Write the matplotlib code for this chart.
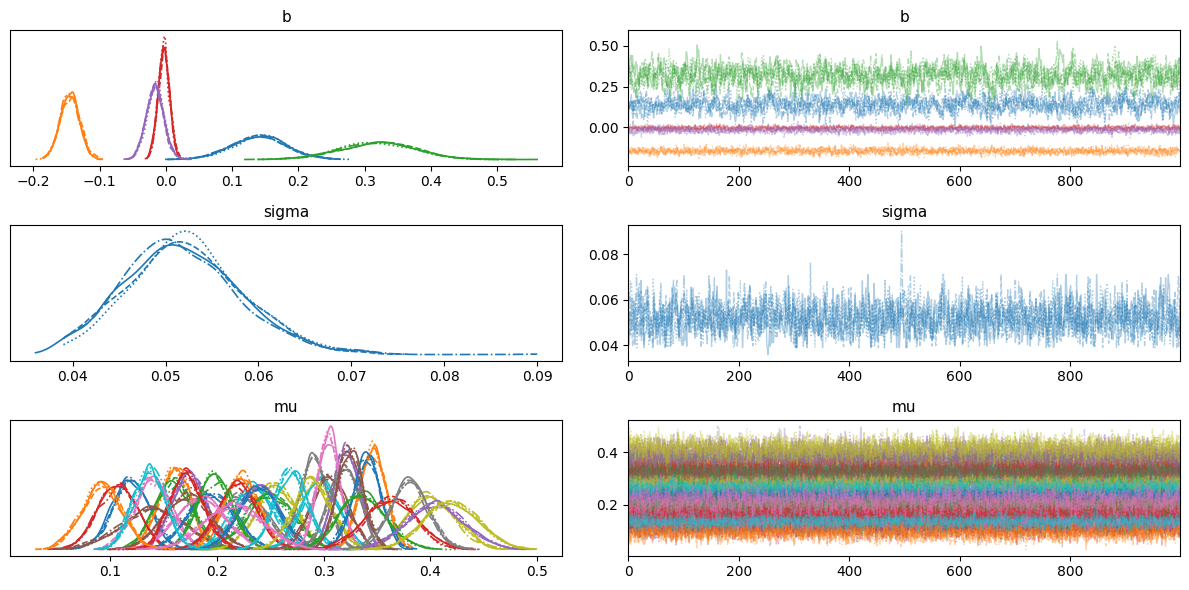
import numpy as np
import matplotlib
matplotlib.use("Agg")
import matplotlib.pyplot as plt

# posterior trace plot: 4 chains x 1000 draws, chains told apart by line style
n_chains = 4
n_draws = 1000
chain_styles = ["solid", "dashed", "dotted", "dashdot"]
colors = plt.rcParams["axes.prop_cycle"].by_key()["color"]

# b: five coefficients (blue, orange, green, red, purple), centre / spread
b_mean = [0.140, -0.145, 0.320, -0.003, -0.016]
b_sd = [0.040, 0.014, 0.055, 0.0085, 0.013]
b_rho = [0.6, 0.3, 0.6, 0.3, 0.3]
b_start = [0.0, -0.14, 0.56, 0.0, -0.02]   # first draw of chain 0

# sigma: right skewed, peak near 0.051
sigma_median = 0.0515
sigma_logsd = 0.12
sigma_rho = 0.4
# single draws that stand out in the trace: (chain, draw, value)
sigma_marks = [(3, 494, 0.072), (3, 495, 0.090), (3, 496, 0.074), (0, 253, 0.036),
               (0, 178, 0.073), (1, 330, 0.076)]

# mu: 40 group means, colour = index mod 10, sd read from peak heights (px)
mu_mean = [0.120, 0.160, 0.160, 0.107, 0.175, 0.140, 0.140, 0.225, 0.255, 0.235,
           0.195, 0.222, 0.250, 0.220, 0.240, 0.172, 0.185, 0.290, 0.400, 0.297,
           0.240, 0.346, 0.198, 0.172, 0.322, 0.305, 0.305, 0.320, 0.290, 0.270,
           0.340, 0.093, 0.336, 0.363, 0.405, 0.325, 0.215, 0.380, 0.420, 0.137]
mu_peak = [223, 260, 223, 216, 250, 133, 228, 178, 208, 208,
           183, 238, 180, 213, 218, 178, 170, 293, 170, 228,
           203, 325, 241, 243, 328, 238, 368, 268, 218, 253,
           288, 208, 173, 166, 146, 328, 143, 216, 158, 256]
mu_range = (0.03, 0.50)
mu_rho = 0.3

draws = np.arange(n_draws)
rng = np.random.default_rng(11)


def ar1(mean, sd, rho, z0=None):
    eps = rng.standard_normal(n_draws)
    z = np.empty(n_draws)
    z[0] = eps[0] if z0 is None else z0
    k = np.sqrt(1 - rho ** 2)
    for t in range(1, n_draws):
        z[t] = rho * z[t - 1] + k * eps[t]
    return mean + sd * z


def kde(x, bw_frac=0.25):
    grid = np.linspace(x.min(), x.max(), 256)
    bw = bw_frac * x.std()
    d = (grid[:, None] - x[None, :]) / bw
    dens = np.exp(-0.5 * d * d).sum(axis=1) / (len(x) * bw * np.sqrt(2 * np.pi))
    return grid, dens


# build the chains
b_samples = np.empty((len(b_mean), n_chains, n_draws))
for i in range(len(b_mean)):
    for c in range(n_chains):
        z0 = (b_start[i] - b_mean[i]) / b_sd[i] if c == 0 else None
        b_samples[i, c] = ar1(b_mean[i], b_sd[i], b_rho[i], z0)

sigma_samples = np.empty((1, n_chains, n_draws))
for c in range(n_chains):
    sigma_samples[0, c] = np.exp(ar1(np.log(sigma_median), sigma_logsd, sigma_rho))
    sigma_samples[0, c] = np.clip(sigma_samples[0, c], 0.039, 0.071)
for c, t, v in sigma_marks:
    sigma_samples[0, c, t] = v

mu_samples = np.empty((len(mu_mean), n_chains, n_draws))
for i in range(len(mu_mean)):
    sd = 3.9 / mu_peak[i]
    for c in range(n_chains):
        mu_samples[i, c] = np.clip(ar1(mu_mean[i], sd, mu_rho), *mu_range)

fig, axes = plt.subplots(3, 2, figsize=(11.89, 5.9), dpi=100)
fig.subplots_adjust(left=0.0088, right=0.9924, top=0.9492, bottom=0.0581,
                    wspace=0.1196, hspace=0.437)


def draw_var(row, name, samples):
    ax_k, ax_t = axes[row]
    n_coords = samples.shape[0]
    for i in range(n_coords):
        for c in range(n_chains):
            ax_t.plot(draws, samples[i, c], color=colors[i % 10],
                      ls=chain_styles[c], lw=1.0, alpha=0.35)
            grid, dens = kde(samples[i, c])
            ax_k.plot(grid, dens, color=colors[i % 10], ls=chain_styles[c], lw=1.2)
    ax_k.set_yticks([])
    ax_k.set_title(name, fontsize=11)
    ax_t.set_title(name, fontsize=11)
    ax_t.set_xlim(0, n_draws - 1)
    for ax in (ax_k, ax_t):
        ax.tick_params(labelsize=10)


draw_var(0, "b", b_samples)
draw_var(1, "sigma", sigma_samples)
draw_var(2, "mu", mu_samples)

axes[0, 1].set_yticks([0.0, 0.25, 0.5])
axes[1, 1].set_yticks([0.04, 0.06, 0.08])

fig.savefig("out.png")
